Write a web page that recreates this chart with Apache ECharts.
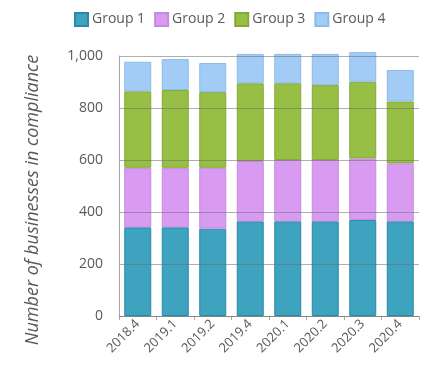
<!DOCTYPE html>
<html>
<head>
<meta charset="utf-8">
<script src="https://cdn.jsdelivr.net/npm/echarts@6/dist/echarts.min.js"></script>
<style>
  html, body { margin: 0; padding: 0; background: #fff; }
  #chart { width: 429px; height: 365px; }
</style>
</head>
<body>
<div id="chart"></div>
<script>
// Quarterly counts of businesses in compliance, stacked by group
var quarters = ['2018.4', '2019.1', '2019.2', '2019.4', '2020.1', '2020.2', '2020.3', '2020.4'];
var group1 = [341, 341, 336, 364, 364, 364, 369, 364];
var group2 = [229, 229, 234, 232, 236, 236, 237, 223];
var group3 = [294, 299, 291, 299, 295, 288, 295, 238];
var group4 = [114, 119, 112, 113, 113, 120, 114, 121];
var groupNames = ['Group 1', 'Group 2', 'Group 3', 'Group 4'];

var fills = ['#3da3bf', '#d89bf1', '#98bf45', '#a2ccf6'];
var edges = ['#2a8aa6', '#c689e2', '#84aa35', '#8dbbe9'];
var font = '"Open Sans", sans-serif';

function stackSeries(name, data, i) {
  return {
    name: name,
    type: 'bar',
    stack: 'total',
    data: data,
    clip: false,
    barCategoryGap: '28%',
    itemStyle: { color: fills[i], borderColor: edges[i], borderWidth: 1 },
    emphasis: { disabled: true }
  };
}

var chart = echarts.init(document.getElementById('chart'), null, { renderer: 'canvas' });
chart.setOption({
  animation: false,
  legend: {
    top: 7,
    left: 69,
    itemWidth: 13,
    itemHeight: 13,
    itemGap: 9,
    icon: 'rect',
    textStyle: { fontFamily: font, fontSize: 14, color: '#595959', padding: [0, 0, 0, -1] },
    data: groupNames
  },
  grid: { left: 119, right: 10, top: 56, bottom: 49 },
  xAxis: {
    type: 'category',
    data: quarters,
    axisLine: { lineStyle: { color: '#a6a6a6' } },
    axisTick: { show: true, length: 4, lineStyle: { color: '#a6a6a6' } },
    axisLabel: {
      rotate: 45,
      margin: 6,
      fontFamily: font,
      fontSize: 13,
      color: '#595959'
    }
  },
  yAxis: {
    type: 'value',
    min: 0,
    max: 1000,
    interval: 200,
    z: 3,
    axisLine: { show: true, lineStyle: { color: '#a6a6a6' } },
    axisTick: { show: false },
    axisLabel: {
      margin: 16,
      fontFamily: font,
      fontSize: 14,
      color: '#595959',
      formatter: function (v) { return v.toLocaleString('en-US'); }
    },
    splitLine: { lineStyle: { color: 'rgba(110,110,110,0.55)', width: 1 } }
  },
  graphic: [{
    type: 'text',
    x: 33,
    y: 200,
    rotation: Math.PI / 2,
    style: {
      text: 'Number of businesses in compliance',
      fontFamily: font,
      fontStyle: 'italic',
      fontSize: 18,
      fill: '#595959',
      textAlign: 'center',
      textVerticalAlign: 'middle'
    }
  }],
  series: [
    stackSeries(groupNames[0], group1, 0),
    stackSeries(groupNames[1], group2, 1),
    stackSeries(groupNames[2], group3, 2),
    stackSeries(groupNames[3], group4, 3)
  ]
});
</script>
</body>
</html>
